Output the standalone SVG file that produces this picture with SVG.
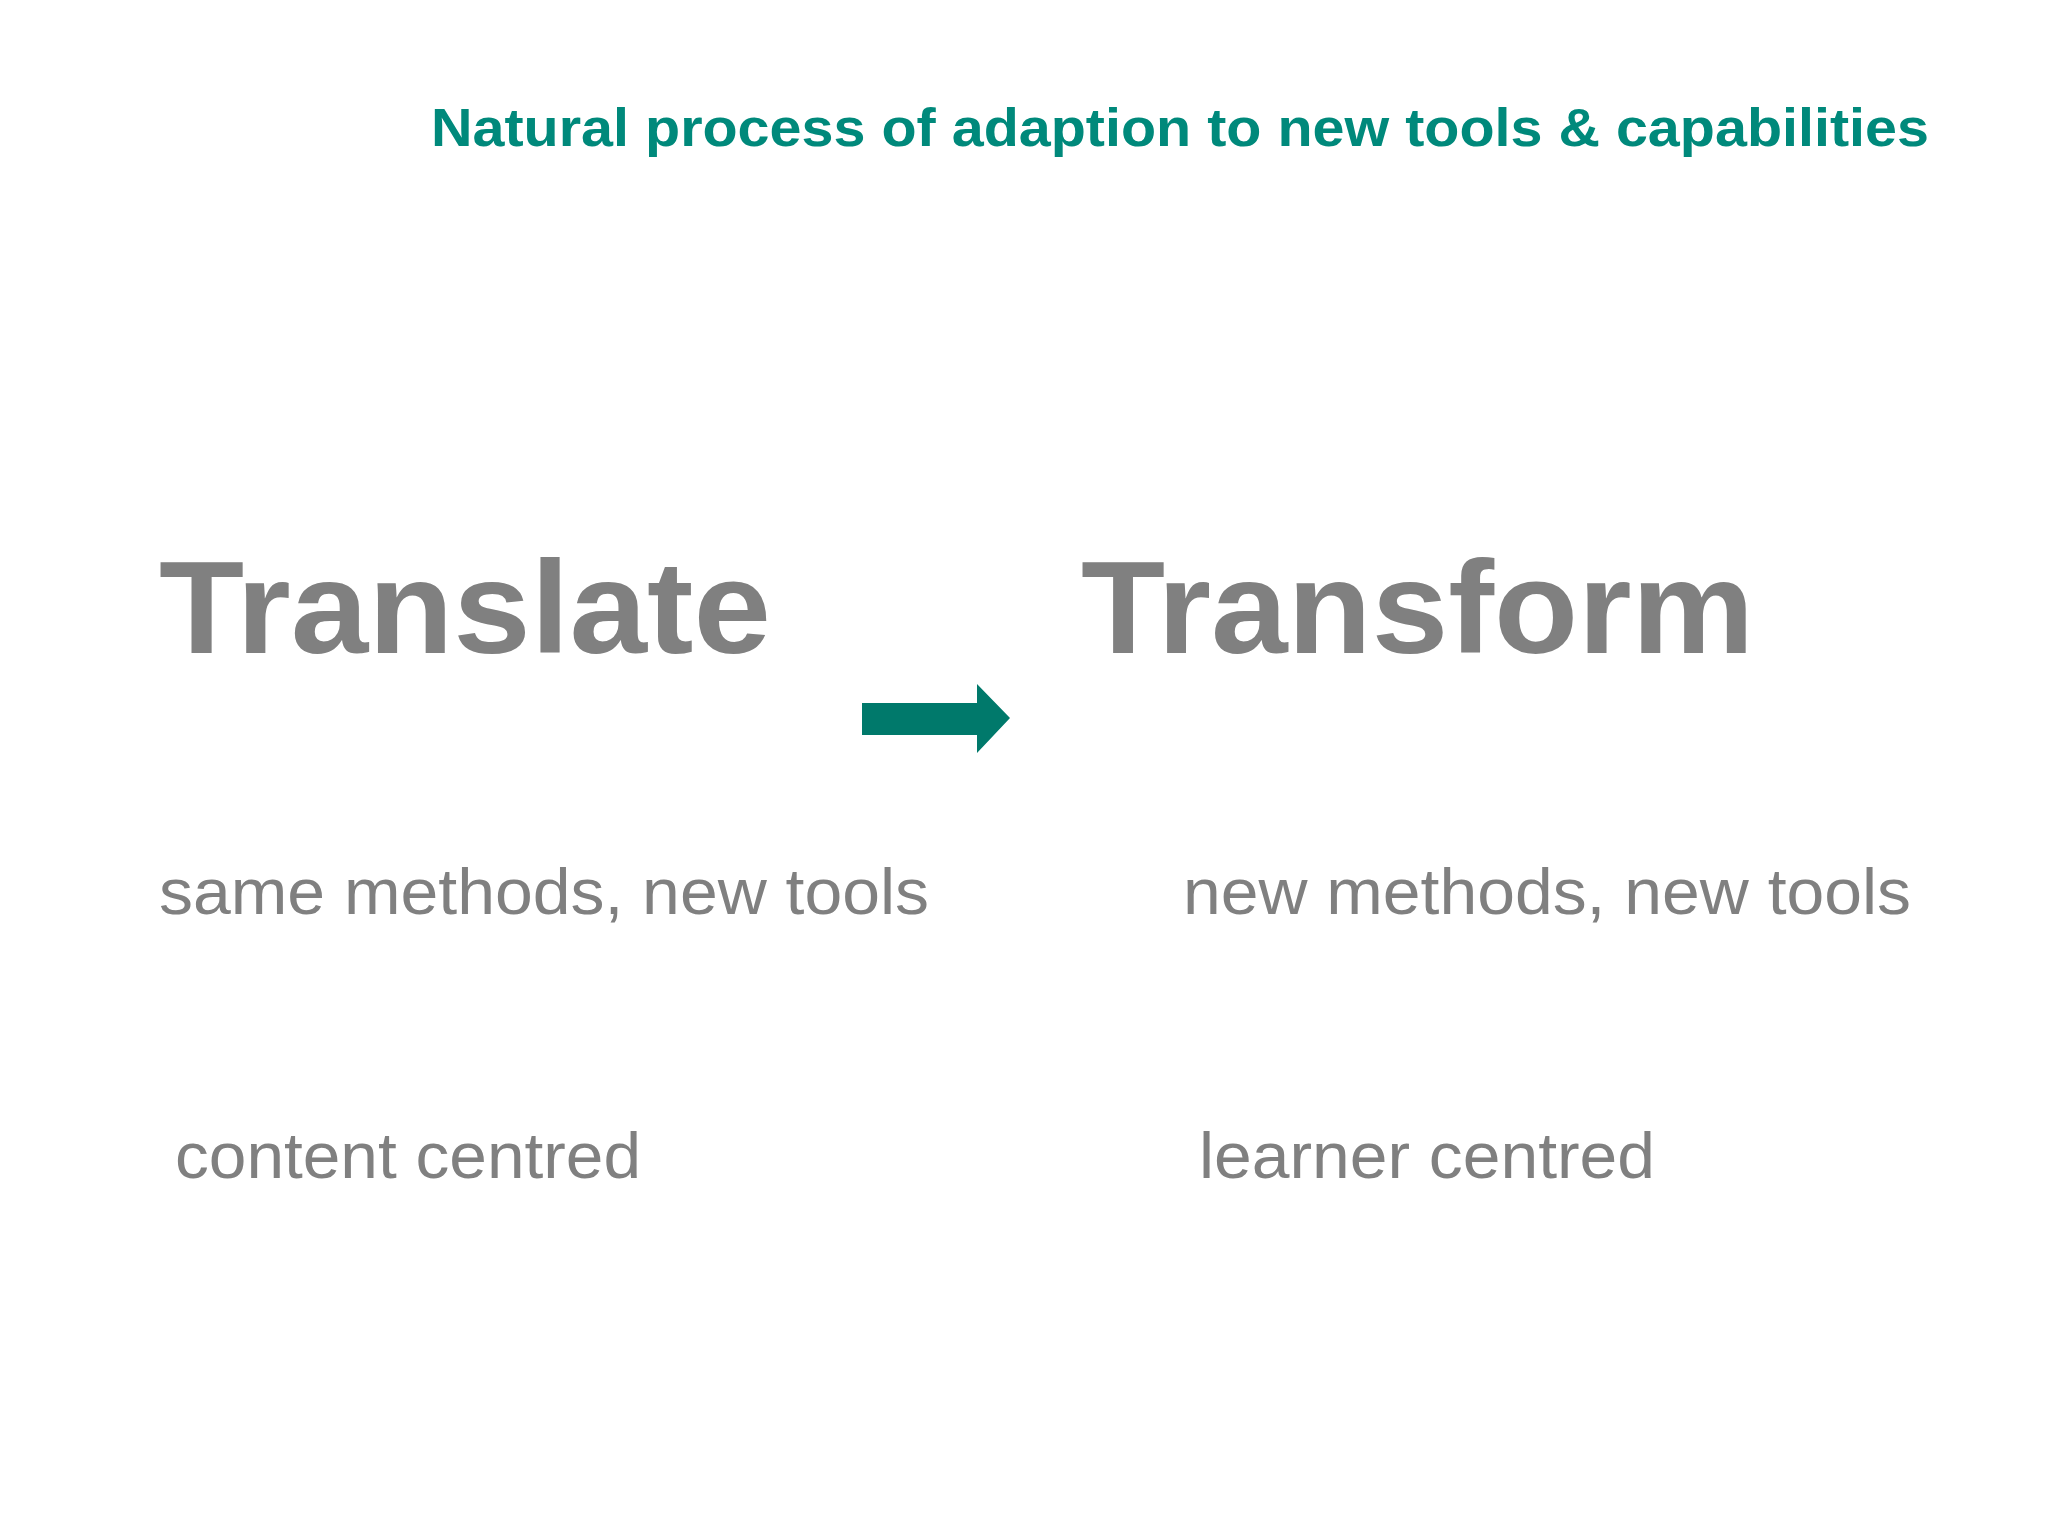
<svg xmlns="http://www.w3.org/2000/svg" width="2048" height="1536" viewBox="0 0 2048 1536">
<style>
.t{font-family:"Liberation Sans",Arial,sans-serif;fill:#808080}
.h{font-weight:bold;font-size:132px}
.s{font-size:64px}
</style>
<rect width="2048" height="1536" fill="#ffffff"/>
<g id="title"><text x="431" y="146" font-family="Liberation Sans,Arial,sans-serif" font-weight="bold" font-size="54" fill="#00897B" textLength="1498" lengthAdjust="spacingAndGlyphs">Natural process of adaption to new tools &amp; capabilities</text></g>
<g id="translate"><text class="t h" x="159" y="653" textLength="612" lengthAdjust="spacingAndGlyphs">Translate</text></g>
<g id="transform"><text class="t h" x="1081" y="653" textLength="673" lengthAdjust="spacingAndGlyphs">Transform</text></g>
<g id="same"><text class="t s" x="159" y="914" textLength="770" lengthAdjust="spacingAndGlyphs">same methods, new tools</text></g>
<g id="new"><text class="t s" x="1183" y="914" textLength="728" lengthAdjust="spacingAndGlyphs">new methods, new tools</text></g>
<g id="content"><text class="t s" x="175" y="1178" textLength="466" lengthAdjust="spacingAndGlyphs">content centred</text></g>
<g id="learner"><text class="t s" x="1199" y="1178" textLength="456" lengthAdjust="spacingAndGlyphs">learner centred</text></g>
<g id="connectors"><path d="M862 703 H977 V684 L1010 718 L977 753 V735 H862 Z" fill="#00796B"/></g>
</svg>
